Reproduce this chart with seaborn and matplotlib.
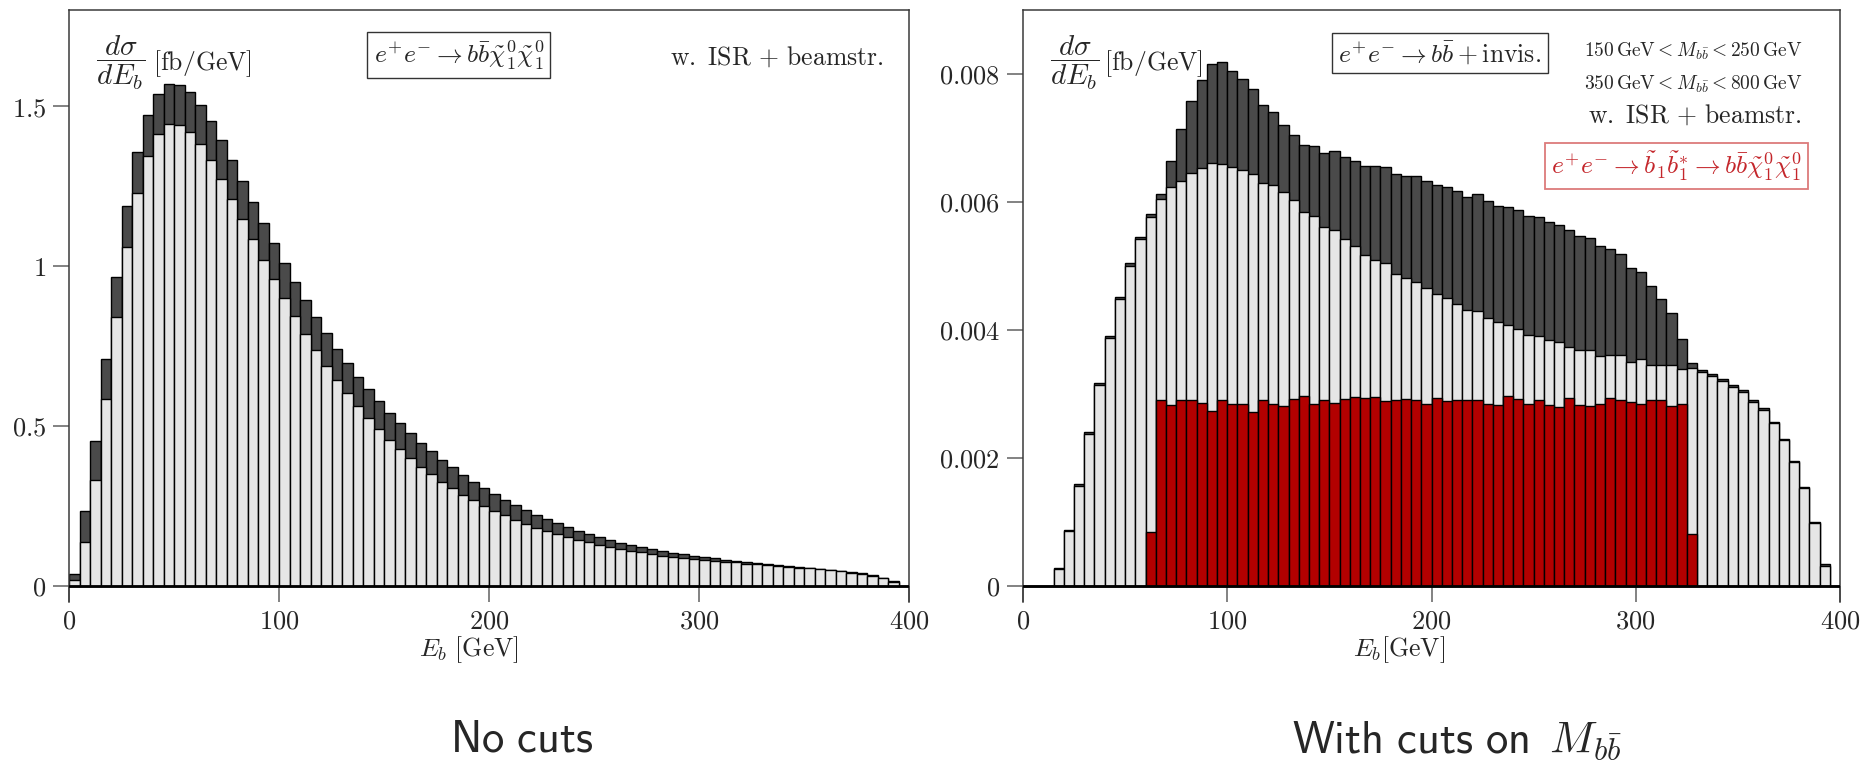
import numpy as np
import pandas as pd
import matplotlib
matplotlib.use("Agg")
import matplotlib.pyplot as plt
from matplotlib.ticker import FuncFormatter, FixedLocator
import seaborn as sns

# ---------------------------------------------------------------- data
# b-jet energy bins (GeV), 5 GeV wide from 0 to 400
bin_edges = list(range(0, 405, 5))
bin_centres = [lo + 2.5 for lo in bin_edges[:-1]]

# No cuts: dsigma/dE_b [fb/GeV]
nocut_total = [
    0.037, 0.235, 0.452, 0.708, 0.967, 1.188, 1.357, 1.472, 1.539, 1.569,
    1.567, 1.543, 1.503, 1.452, 1.394, 1.331, 1.266, 1.200, 1.134, 1.072,
    1.009, 0.951, 0.894, 0.842, 0.791, 0.742, 0.698, 0.654, 0.616, 0.577,
    0.542, 0.509, 0.477, 0.448, 0.421, 0.395, 0.371, 0.348, 0.326, 0.306,
    0.288, 0.270, 0.253, 0.238, 0.222, 0.209, 0.197, 0.184, 0.173, 0.163,
    0.154, 0.145, 0.135, 0.129, 0.122, 0.115, 0.109, 0.104, 0.099, 0.095,
    0.090, 0.087, 0.082, 0.078, 0.074, 0.071, 0.068, 0.065, 0.062, 0.059,
    0.057, 0.054, 0.051, 0.048, 0.044, 0.040, 0.033, 0.026, 0.015, 0.0,
]
nocut_part = [
    0.020, 0.139, 0.330, 0.583, 0.840, 1.060, 1.229, 1.343, 1.413, 1.444,
    1.442, 1.418, 1.381, 1.330, 1.271, 1.210, 1.146, 1.083, 1.019, 0.960,
    0.900, 0.845, 0.789, 0.739, 0.689, 0.645, 0.603, 0.563, 0.526, 0.491,
    0.457, 0.428, 0.400, 0.373, 0.350, 0.326, 0.306, 0.285, 0.269, 0.251,
    0.235, 0.221, 0.207, 0.194, 0.182, 0.172, 0.163, 0.153, 0.144, 0.136,
    0.129, 0.122, 0.116, 0.109, 0.105, 0.100, 0.095, 0.092, 0.089, 0.084,
    0.082, 0.079, 0.076, 0.074, 0.070, 0.068, 0.065, 0.062, 0.059, 0.057,
    0.055, 0.052, 0.049, 0.046, 0.042, 0.038, 0.031, 0.024, 0.013, 0.0,
]

# With cuts on M_bb: dsigma/dE_b in units of 1e-3 fb/GeV
cut_total_milli = [
    0.0, 0.0, 0.0, 0.28, 0.88, 1.60, 2.40, 3.17, 3.90, 4.515,
    5.04, 5.46, 5.81, 6.13, 6.64, 7.145, 7.58, 7.90, 8.16, 8.19,
    8.05, 7.92, 7.77, 7.51, 7.41, 7.21, 7.05, 6.89, 6.87, 6.77,
    6.80, 6.71, 6.64, 6.57, 6.56, 6.55, 6.43, 6.40, 6.40, 6.33,
    6.26, 6.24, 6.17, 6.08, 6.125, 6.02, 5.93, 5.92, 5.88, 5.78,
    5.77, 5.69, 5.64, 5.56, 5.47, 5.44, 5.31, 5.26, 5.19, 4.97,
    4.90, 4.69, 4.48, 4.26, 3.86, 3.49, 3.37, 3.31, 3.23, 3.14,
    3.06, 2.91, 2.78, 2.56, 2.30, 1.95, 1.55, 1.005, 0.339, 0.0,
]
cut_part_milli = [
    0.0, 0.0, 0.0, 0.26, 0.86, 1.57, 2.37, 3.145, 3.87, 4.48,
    5.00, 5.42, 5.76, 6.05, 6.23, 6.33, 6.455, 6.53, 6.61, 6.60,
    6.55, 6.505, 6.44, 6.30, 6.26, 6.16, 6.03, 5.85, 5.78, 5.61,
    5.56, 5.42, 5.31, 5.17, 5.10, 5.05, 4.88, 4.81, 4.755, 4.66,
    4.57, 4.505, 4.40, 4.31, 4.30, 4.18, 4.125, 4.08, 4.01, 3.92,
    3.91, 3.85, 3.81, 3.74, 3.69, 3.68, 3.60, 3.61, 3.61, 3.505,
    3.54, 3.46, 3.46, 3.45, 3.385, 3.40, 3.34, 3.28, 3.20, 3.11,
    3.03, 2.88, 2.755, 2.54, 2.28, 1.93, 1.53, 0.99, 0.32, 0.0,
]
cut_signal_milli = [
    0.0, 0.0, 0.0, 0.0, 0.0, 0.0, 0.0, 0.0, 0.0, 0.0,
    0.0, 0.0, 0.84, 2.90, 2.83, 2.90, 2.90, 2.86, 2.74, 2.90,
    2.84, 2.85, 2.72, 2.91, 2.84, 2.81, 2.92, 2.97, 2.84, 2.91,
    2.86, 2.92, 2.95, 2.93, 2.95, 2.89, 2.91, 2.92, 2.90, 2.84,
    2.93, 2.89, 2.90, 2.90, 2.91, 2.84, 2.83, 2.97, 2.92, 2.85,
    2.90, 2.83, 2.79, 2.93, 2.83, 2.82, 2.85, 2.93, 2.91, 2.875,
    2.85, 2.91, 2.90, 2.81, 2.85, 0.82, 0.0, 0.0, 0.0, 0.0,
    0.0, 0.0, 0.0, 0.0, 0.0, 0.0, 0.0, 0.0, 0.0, 0.0,
]

x_ticks = [0, 100, 200, 300, 400]
left_y_ticks = [0, 0.5, 1, 1.5]
right_y_ticks = [0, 0.002, 0.004, 0.006, 0.008]

# ---------------------------------------------------------------- style
sns.set_style("white")
plt.rcParams["font.family"] = ["DejaVu Serif"]
plt.rcParams["mathtext.fontset"] = "cm"
plt.rcParams["axes.unicode_minus"] = False

DARK = "#4a4a4a"
LIGHT = "#e6e6e6"
RED = "#b20000"
RED_TEXT = "#c4262b"
RED_EDGE = "#dc7b7b"
FRAME = "#3a3a3a"
TICK = "#606060"

FRAC = r"$\dfrac{d\sigma}{dE_b}$"
UNIT = r"$[\mathrm{fb/GeV}]$"
ISR = r"$\mathrm{w.\ ISR}\,+\,\mathrm{beamstr.}$"

W, H = 1876, 764
fig = plt.figure(figsize=(W / 100, H / 100), dpi=100)
ax_l = fig.add_axes([69 / W, 162 / H, 840 / W, 592 / H])
ax_r = fig.add_axes([1023 / W, 162 / H, 817 / W, 592 / H])


def draw_layer(ax, values, colour):
    frame = pd.DataFrame({"E_b": bin_centres, "xsec": np.asarray(values, float)})
    sns.histplot(data=frame, x="E_b", weights="xsec", bins=bin_edges,
                 ax=ax, color=colour, edgecolor="black", linewidth=1.0,
                 alpha=1.0, element="bars", fill=True)


def style_axes(ax, yticks, ylim):
    ax.set_xlim(0, 400)
    ax.set_ylim(*ylim)
    ax.axhline(0, color="black", lw=2.0, zorder=5)
    for side in ("left", "right", "top"):
        ax.spines[side].set_visible(True)
        ax.spines[side].set_color(FRAME)
        ax.spines[side].set_linewidth(1.1)
    ax.spines["bottom"].set_visible(False)
    ax.xaxis.set_major_locator(FixedLocator(x_ticks))
    ax.yaxis.set_major_locator(FixedLocator(yticks))
    fmt = FuncFormatter(lambda v, pos: f"${v:g}$")
    ax.xaxis.set_major_formatter(fmt)
    ax.yaxis.set_major_formatter(fmt)
    ax.tick_params(axis="y", which="major", direction="out", length=11.5,
                   width=1.1, color=TICK, labelsize=19, pad=5, left=True)
    ax.tick_params(axis="x", which="major", direction="in", length=11.5,
                   width=1.1, color=TICK, labelsize=19, pad=4.5, bottom=True)
    ax.set_ylabel("")


def y_label(ax, x_frac, x_unit):
    ax.text(x_frac, 0.9105, FRAC, transform=ax.transAxes,
            ha="left", va="center", fontsize=21)
    ax.text(x_unit, 0.909, UNIT, transform=ax.transAxes,
            ha="left", va="center", fontsize=18.5)


# ---------------------------------------------------------------- left panel
draw_layer(ax_l, nocut_total, DARK)
draw_layer(ax_l, nocut_part, LIGHT)
style_axes(ax_l, left_y_ticks, (-0.05, 1.8))
ax_l.set_xlabel(r"$E_b\ [\mathrm{GeV}]$", fontsize=18.5)
ax_l.xaxis.set_label_coords(0.476, -0.055)

y_label(ax_l, 0.032, 0.100)
ax_l.text(0.464, 0.924,
          r"$e^{+}e^{-} \to b\bar{b}\tilde{\chi}^0_1\tilde{\chi}^0_1$",
          transform=ax_l.transAxes, ha="center", va="center", fontsize=18.5,
          bbox=dict(boxstyle="square,pad=0.25", fc="white", ec="#333333", lw=1.0))
ax_l.text(0.970, 0.921, ISR,
          transform=ax_l.transAxes, ha="right", va="center", fontsize=18.5)

# ---------------------------------------------------------------- right panel
milli = 1e-3
draw_layer(ax_r, np.asarray(cut_total_milli) * milli, DARK)
draw_layer(ax_r, np.asarray(cut_part_milli) * milli, LIGHT)
draw_layer(ax_r, np.asarray(cut_signal_milli) * milli, RED)
style_axes(ax_r, right_y_ticks, (-0.00025, 0.009))
ax_r.set_xlabel(r"$E_b[\mathrm{GeV}]$", fontsize=18.5)
ax_r.xaxis.set_label_coords(0.460, -0.055)

y_label(ax_r, 0.033, 0.099)
ax_r.text(0.510, 0.927, r"$e^{+}e^{-} \to b\bar{b} + \mathrm{invis.}$",
          transform=ax_r.transAxes, ha="center", va="center", fontsize=18.5,
          bbox=dict(boxstyle="square,pad=0.25", fc="white", ec="#333333", lw=1.0))
ax_r.text(0.9535, 0.931,
          r"$150\,\mathrm{GeV} < M_{b\bar{b}} < 250\,\mathrm{GeV}$",
          transform=ax_r.transAxes, ha="right", va="center", fontsize=14)
ax_r.text(0.9535, 0.875,
          r"$350\,\mathrm{GeV} < M_{b\bar{b}} < 800\,\mathrm{GeV}$",
          transform=ax_r.transAxes, ha="right", va="center", fontsize=14)
ax_r.text(0.9535, 0.823, ISR,
          transform=ax_r.transAxes, ha="right", va="center", fontsize=18.5)
ax_r.text(0.9535, 0.736,
          r"$e^{+}e^{-} \to \tilde{b}_1\tilde{b}_1^{*} \to b\bar{b}\tilde{\chi}^0_1\tilde{\chi}^0_1$",
          transform=ax_r.transAxes, ha="right", va="center", fontsize=18.5,
          color=RED_TEXT,
          bbox=dict(boxstyle="square,pad=0.25", fc="white", ec=RED_EDGE, lw=1.3))

# ---------------------------------------------------------------- captions
fig.text(522 / W, 12 / H, r"$\mathsf{No\ cuts}$", ha="center", va="baseline",
         fontsize=32)
fig.text(1457 / W, 12 / H, r"$\mathsf{With\ cuts\ on}\ \,M_{b\bar{b}}$",
         ha="center", va="baseline", fontsize=32)

fig.savefig("out.png", dpi=100, facecolor="white")
